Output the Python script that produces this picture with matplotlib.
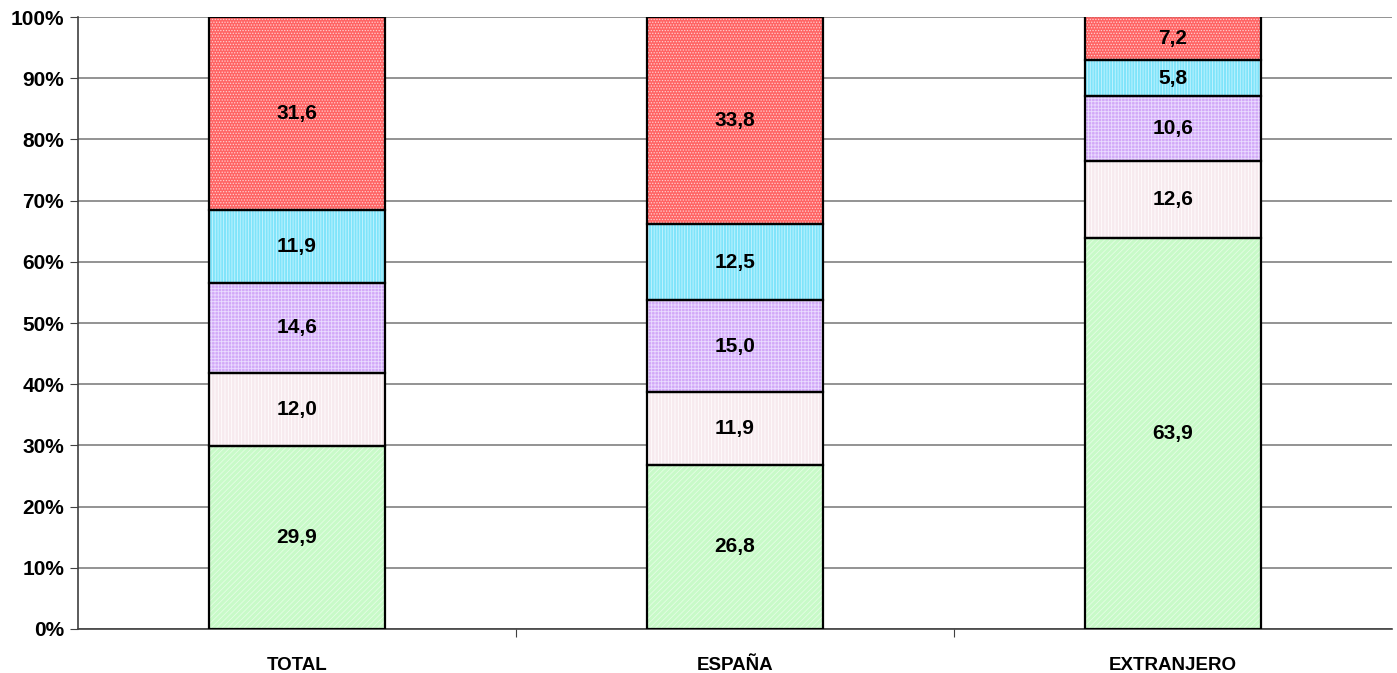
import numpy as np
import matplotlib.pyplot as plt

plt.rcParams['font.family'] = ['Liberation Sans', 'DejaVu Sans']
plt.rcParams['hatch.linewidth'] = 0.6

categories = ["TOTAL", "ESPAÑA", "EXTRANJERO"]
serie_1 = [29.9, 26.8, 63.9]
serie_2 = [12.0, 11.9, 12.6]
serie_3 = [14.6, 15.0, 10.6]
serie_4 = [11.9, 12.5, 5.8]
serie_5 = [31.6, 33.8, 7.2]

series = [serie_1, serie_2, serie_3, serie_4, serie_5]
faces = ["#c8fac8", "#f7eaee", "#d2a8f8", "#7fe4fa", "#ff6464"]
hatch_cols = ["#e4fde4", "#ffffff", "#eadcff", "#c8f4ff", "#ffd0d0"]
hatches = ["//////", "|||||", "+++++", "||||||", "......"]

fig = plt.figure(figsize=(13.97, 6.73), dpi=100)
ax = fig.add_axes([0.0558, 0.0654, 0.9406, 0.9093])

x = np.arange(len(categories))
width = 0.40
fs = 15
bottom = np.zeros(len(categories))
for vals, fc, hc, h in zip(series, faces, hatch_cols, hatches):
    vals = np.array(vals)
    ax.bar(x, vals, width, bottom=bottom, color=fc, edgecolor=hc,
           hatch=h, linewidth=0, zorder=2)
    ax.bar(x, vals, width, bottom=bottom, fill=False, edgecolor="black",
           linewidth=1.6, zorder=3)
    for xi, b, v in zip(x, bottom, vals):
        ax.text(xi, b + v / 2, f"{v:.1f}".replace(".", ","), ha="center",
                va="center", fontsize=fs, fontweight="bold", zorder=4)
    bottom += vals

ax.set_xlim(-0.5, 2.5)
ax.set_ylim(0, 100)
ax.set_yticks(np.arange(0, 101, 10))
ax.set_yticklabels([f"{t}%" for t in range(0, 101, 10)],
                   fontsize=fs, fontweight="bold")
ax.yaxis.grid(True, color="#808080", linewidth=1.2, zorder=0)
ax.set_axisbelow(True)

ax.set_xticks([0.5, 1.5], minor=False)
ax.set_xticklabels([])
ax.set_xticks(x, minor=True)
ax.set_xticklabels(categories, minor=True, fontsize=13.5, fontweight="bold")
ax.tick_params(axis="x", which="minor", length=0, pad=20)
ax.tick_params(axis="x", which="major", length=6, color="#404040")
ax.tick_params(axis="y", length=6, color="#404040", pad=4)

for side in ["top", "right"]:
    ax.spines[side].set_visible(False)
for side in ["left", "bottom"]:
    ax.spines[side].set_color("#404040")
    ax.spines[side].set_linewidth(1.2)

fig.savefig("out.png", dpi=100)
